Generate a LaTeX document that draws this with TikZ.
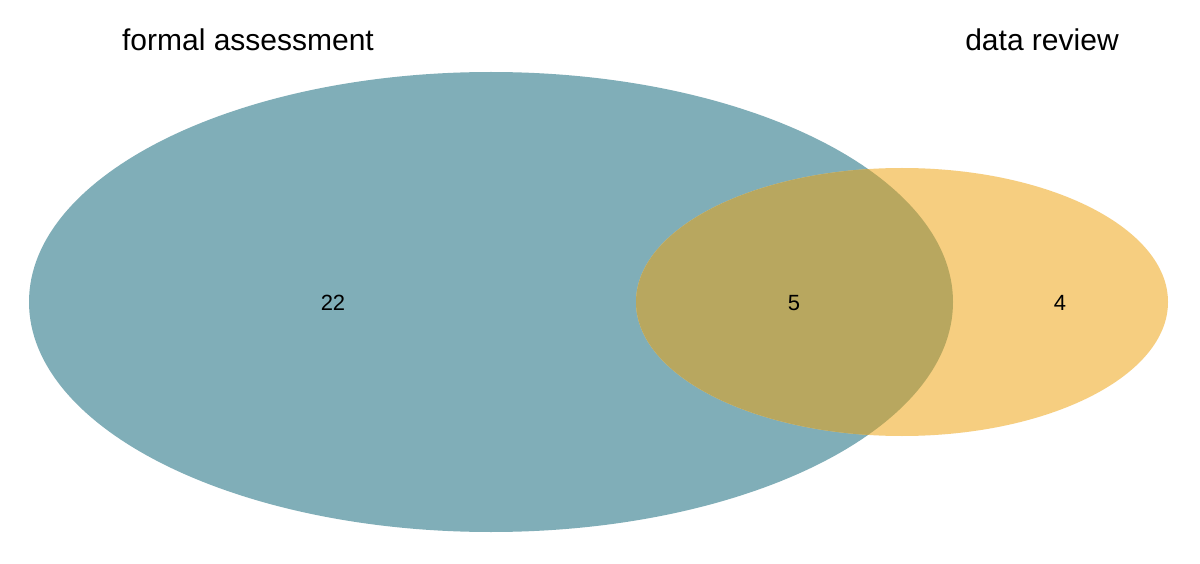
\documentclass[tikz,border=0pt]{standalone}
\usepackage{fontspec}
\setmainfont{Liberation Sans}
\definecolor{setA}{HTML}{80AEB8}
\definecolor{setB}{HTML}{F6CE80}
\definecolor{setAB}{HTML}{B8A75F}
\begin{document}
\begin{tikzpicture}[x=1pt,y=-1pt,
  title/.style={anchor=base,inner sep=0pt,font=\fontsize{30}{36}\selectfont},
  count/.style={inner sep=0pt,font=\fontsize{22}{26}\selectfont}]
\useasboundingbox[fill=white] (0,0) rectangle (1200,564);
\fill[setA] (491,302) ellipse [x radius=462, y radius=230];
\fill[setB] (902,302) ellipse [x radius=266, y radius=134];
\begin{scope}
  \clip (491,302) ellipse [x radius=462, y radius=230];
  \fill[setAB] (902,302) ellipse [x radius=266, y radius=134];
\end{scope}
\node[title] (ta) at (248,51) {formal assessment};
\node[title] (tb) at (1042,51) {data review};
\node[count] (n22) at (333,303) {22};
\node[count] (n5) at (794,303) {5};
\node[count] (n4) at (1060,303) {4};
\end{tikzpicture}
\end{document}
